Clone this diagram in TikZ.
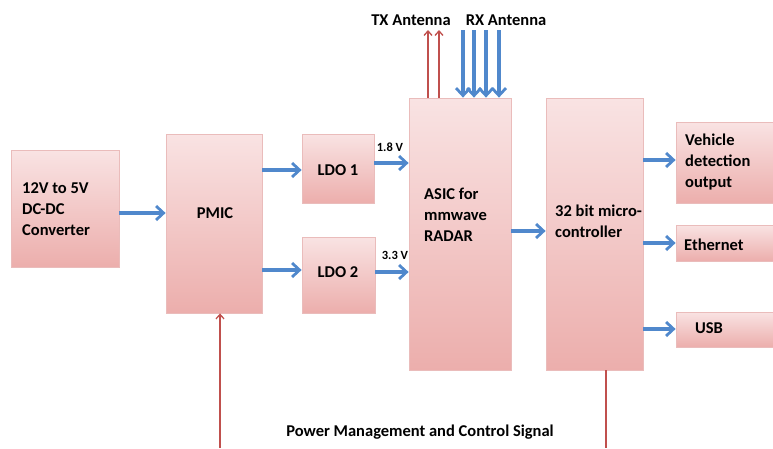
\documentclass[tikz,border=0pt]{standalone}
\usepackage{fontspec}
\setmainfont{Carlito}
\usetikzlibrary{arrows.meta}
\definecolor{boxtop}{RGB}{249,227,227}
\definecolor{boxbot}{RGB}{236,174,172}
\definecolor{boxline}{RGB}{234,188,187}
\definecolor{ablue}{RGB}{80,136,204}
\definecolor{ared}{RGB}{192,80,77}
\tikzset{
  blk/.style={draw=boxline, line width=0.8pt, top color=boxtop, bottom color=boxbot, inner sep=0pt},
  txt/.style={font=\bfseries\fontsize{16.5}{21}\selectfont, align=left, inner sep=0pt},
  lbl/.style={font=\bfseries\fontsize{12.5}{14}\selectfont, inner sep=0pt},
  barrow/.style={draw=ablue, line width=3.2pt, -{Straight Barb[length=7.5pt,width=14pt,line width=2.8pt]}},
  rarrow/.style={draw=ared, line width=1.3pt, -{Straight Barb[length=4.5pt,width=8pt]}},
  rline/.style={draw=ared, line width=1.3pt}
}
\begin{document}
\begin{tikzpicture}[x=1pt,y=-1pt]
\useasboundingbox (0,0) rectangle (773,448);
\clip (0,0) rectangle (773,448);
% boxes
\node[blk, minimum width=108, minimum height=117] (dc) at (65,208.5) {};
\node[blk, minimum width=96, minimum height=179] (pmic) at (214,223.5) {};
\node[blk, minimum width=72, minimum height=69] (ldo1) at (338,168.5) {};
\node[blk, minimum width=73, minimum height=76] (ldo2) at (338.5,275) {};
\node[blk, minimum width=102, minimum height=272] (asic) at (460,234) {};
\node[blk, minimum width=97, minimum height=272] (mcu) at (594.5,234) {};
\node[blk, minimum width=110, minimum height=81] (veh) at (731,162.5) {};
\node[blk, minimum width=110, minimum height=36] (eth) at (731,243) {};
\node[blk, minimum width=110, minimum height=35] (usb) at (731,329.5) {};
% texts
\node[txt, anchor=west] (tdc) at (22,209) {12V to 5V\\DC-DC\\Converter};
\node[txt] (tpmic) at (215,213) {PMIC};
\node[txt] (tldo1) at (338,170) {LDO 1};
\node[txt] (tldo2) at (338,272) {LDO 2};
\node[txt, anchor=west] (tasic) at (424,215) {ASIC for\\mmwave\\RADAR};
\node[txt, anchor=west] (tmcu) at (555,221) {32 bit micro-\\controller};
\node[txt, anchor=west] (tveh) at (685,162) {Vehicle\\detection\\output};
\node[txt, anchor=west] (teth) at (684,245) {Ethernet};
\node[txt] (tusb) at (709,328) {USB};
\node[txt] (ttx) at (411,20) {TX Antenna};
\node[txt] (trx) at (506,20) {RX Antenna};
\node[lbl] (l18) at (390,147) {1.8 V};
\node[lbl] (l33) at (395,255) {3.3 V};
\node[txt] (tpow) at (420,432) {Power Management and Control Signal};
% coordinates
\coordinate (tx1) at (428,30);
\coordinate (tx2) at (439,30);
\coordinate (rx1) at (463,30);
\coordinate (rx2) at (474,30);
\coordinate (rx3) at (486,30);
\coordinate (rx4) at (499,30);
\coordinate (pin) at (220,448);
\coordinate (mout) at (606,448);
% blue connectors
\draw[barrow] (dc.east |- 0,213) -- (pmic.west |- 0,213);
\draw[barrow] (pmic.east |- 0,170) -- (ldo1.west |- 0,170);
\draw[barrow] (pmic.east |- 0,270) -- (ldo2.west |- 0,270);
\draw[barrow] (ldo1.east |- 0,163) -- (asic.west |- 0,163);
\draw[barrow] (ldo2.east |- 0,272) -- (asic.west |- 0,272);
\draw[barrow] (asic.east |- 0,231) -- (mcu.west |- 0,231);
\draw[barrow] (mcu.east |- 0,160) -- (veh.west |- 0,160);
\draw[barrow] (mcu.east |- 0,243) -- (eth.west |- 0,243);
\draw[barrow] (mcu.east |- 0,329) -- (usb.west |- 0,329);
\foreach \r in {rx1,rx2,rx3,rx4}{
  \draw[barrow] (\r) -- (\r |- asic.north);
}
% red connectors
\draw[rarrow] (tx1 |- asic.north) -- (tx1);
\draw[rarrow] (tx2 |- asic.north) -- (tx2);
\draw[rarrow] (pin) -- (pin |- pmic.south);
\draw[rline] (mout |- mcu.south) -- (mout);
\end{tikzpicture}
\end{document}
